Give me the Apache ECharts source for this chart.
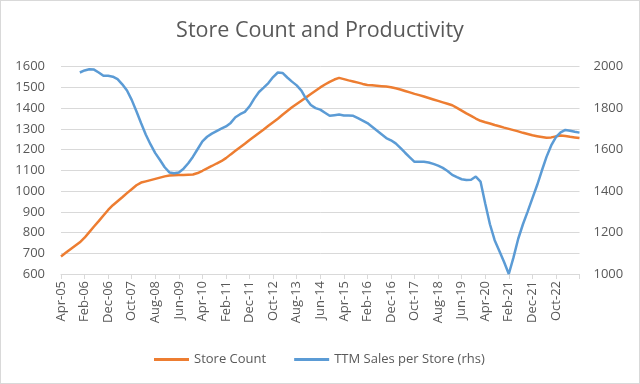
<!DOCTYPE html>
<html><head><meta charset="utf-8">
<script src="https://cdn.jsdelivr.net/npm/echarts@6/dist/echarts.min.js"></script>
<style>html,body{margin:0;padding:0;background:#fff}#c{width:640px;height:384px;box-sizing:border-box;border:1px solid #d9d9d9}</style>
</head><body><div id="c"></div>
<script>
const categories = [
 'Apr-05','Jun-05','Aug-05','Oct-05','Dec-05',
 'Feb-06','Apr-06','Jun-06','Aug-06','Oct-06','Dec-06',
 'Feb-07','Apr-07','Jun-07','Aug-07','Oct-07','Dec-07',
 'Feb-08','Apr-08','Jun-08','Aug-08','Oct-08','Dec-08',
 'Feb-09','Apr-09','Jun-09','Aug-09','Oct-09','Dec-09',
 'Feb-10','Apr-10','Jun-10','Aug-10','Oct-10','Dec-10',
 'Feb-11','Apr-11','Jun-11','Aug-11','Oct-11','Dec-11',
 'Feb-12','Apr-12','Jun-12','Aug-12','Oct-12','Dec-12',
 'Feb-13','Apr-13','Jun-13','Aug-13','Oct-13','Dec-13',
 'Feb-14','Apr-14','Jun-14','Aug-14','Oct-14','Dec-14',
 'Feb-15','Apr-15','Jun-15','Aug-15','Oct-15','Dec-15',
 'Feb-16','Apr-16','Jun-16','Aug-16','Oct-16','Dec-16',
 'Feb-17','Apr-17','Jun-17','Aug-17','Oct-17','Dec-17',
 'Feb-18','Apr-18','Jun-18','Aug-18','Oct-18','Dec-18',
 'Feb-19','Apr-19','Jun-19','Aug-19','Oct-19','Dec-19',
 'Feb-20','Apr-20','Jun-20','Aug-20','Oct-20','Dec-20',
 'Feb-21','Apr-21','Jun-21','Aug-21','Oct-21','Dec-21',
 'Feb-22','Apr-22','Jun-22','Aug-22','Oct-22','Dec-22',
 'Feb-23','Apr-23','Jun-23','Aug-23'
];
const storeCount = [
 685,702,719,736,753,775,802,829,855,882,
 909,932,951,970,990,1009,1028,1041,1047,1053,
 1059,1065,1071,1075,1076,1077,1078,1079,1080,1087,
 1098,1110,1121,1133,1144,1159,1177,1194,1211,1228,
 1246,1263,1280,1297,1315,1332,1349,1368,1386,1404,
 1420,1436,1452,1468,1484,1500,1514,1527,1538,1546,
 1540,1534,1529,1523,1517,1512,1510,1508,1506,1504,
 1501,1496,1490,1483,1476,1469,1463,1456,1449,1442,
 1435,1428,1421,1414,1401,1388,1375,1363,1350,1339,
 1332,1326,1319,1313,1306,1300,1294,1288,1281,1275,
 1269,1265,1261,1257,1259,1264,1268,1266,1262,1259,
 1256
];
const salesPerStore = [
 null,null,null,null,1972,1982,1988,1986,1972,1956,
 1956,1952,1940,1915,1885,1840,1785,1727,1672,1625,
 1583,1550,1515,1490,1486,1490,1508,1534,1566,1603,
 1640,1662,1677,1689,1701,1712,1729,1756,1771,1782,
 1809,1846,1878,1899,1921,1950,1972,1970,1948,1928,
 1910,1885,1845,1815,1800,1793,1778,1763,1766,1769,
 1765,1764,1763,1752,1740,1728,1710,1692,1674,1656,
 1645,1630,1608,1585,1563,1541,1541,1541,1538,1531,
 1523,1512,1497,1478,1467,1457,1453,1455,1470,1446,
 1340,1240,1163,1111,1058,1000,1080,1170,1240,1301,
 1365,1428,1498,1565,1620,1660,1683,1695,1691,1686,
 1682
];
const titleText = 'Store Count and Productivity';
const seriesNames = ['Store Count','TTM Sales per Store (rhs)'];
const colors = ['#ED7D31','#5B9BD5'];
const font = 'Open Sans';
const txt = '#595959';
const lastIdx = categories.length - 1;
const chart = echarts.init(document.getElementById('c'));
chart.setOption({
  animation:false,
  color:colors,
  title:{text:titleText,left:'center',top:14,textStyle:{fontFamily:font,fontSize:21.5,fontWeight:'normal',color:txt}},
  legend:{bottom:12,left:148,itemWidth:35,itemHeight:3,itemGap:28,icon:'rect',
    textStyle:{fontFamily:font,fontSize:13,color:txt},data:seriesNames},
  grid:{left:60,right:59.5,top:65.7,bottom:109,containLabel:false},
  xAxis:{type:'category',data:categories,boundaryGap:false,
    axisLine:{lineStyle:{color:'#d9d9d9'}},
    axisTick:{show:true,interval:4,length:5,lineStyle:{color:'#d9d9d9'}},
    axisLabel:{interval:function(i){return i%5===0 && i<lastIdx;},rotate:90,fontFamily:font,fontSize:13,color:txt,margin:7},
    splitLine:{show:false}},
  yAxis:[
    {type:'value',min:600,max:1600,interval:100,
     axisLabel:{fontFamily:font,fontSize:13,color:txt,margin:16,formatter:function(v){return String(v);}},
     axisLine:{show:false},axisTick:{show:false},
     splitLine:{lineStyle:{color:'#d9d9d9'}}},
    {type:'value',min:1000,max:2000,interval:200,
     axisLabel:{fontFamily:font,fontSize:13,color:txt,margin:14,formatter:function(v){return String(v);}},
     axisLine:{show:false},axisTick:{show:false},splitLine:{show:false}}
  ],
  series:[
    {name:seriesNames[0],type:'line',yAxisIndex:0,data:storeCount,showSymbol:false,lineStyle:{width:2.5},z:2},
    {name:seriesNames[1],type:'line',yAxisIndex:1,data:salesPerStore,showSymbol:false,lineStyle:{width:2.5},z:3}
  ]
});
</script></body></html>
